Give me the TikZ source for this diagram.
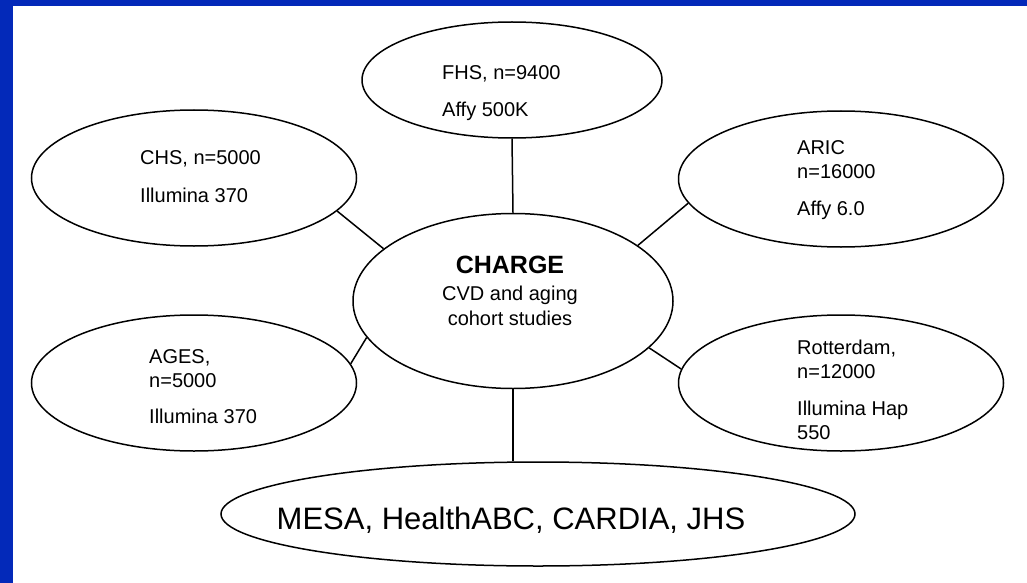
\documentclass[tikz,border=0pt]{standalone}
\usepackage{fontspec}
\setmainfont{Liberation Sans}
\usepackage{xcolor}
\usetikzlibrary{shapes,positioning}

\definecolor{slideblue}{RGB}{3,41,185}

\begin{document}
\begin{tikzpicture}[
    x=1pt, y=-1pt,
    cohort/.style={ellipse, draw, line width=1.5pt, inner sep=0pt, minimum width=325pt, minimum height=136pt},
    info/.style={anchor=base west, align=left, inner sep=0pt, font=\fontsize{20}{24}\selectfont},
    link/.style={line width=1.5pt}
]

% page and frame
\useasboundingbox (0,0) rectangle (1027,583);
\fill[white] (0,0) rectangle (1027,583);
\fill[slideblue] (0,0) rectangle (1027,6);
\fill[slideblue] (0,0) rectangle (13,583);

% ellipses
\node[cohort, minimum width=320pt, minimum height=175pt] (charge) at (513,301) {};
\node[cohort, minimum width=300pt, minimum height=116pt] (fhs) at (512,80) {};
\node[cohort] (chs) at (194,178) {};
\node[cohort] (aric) at (841,179) {};
\node[cohort] (ages) at (194,383) {};
\node[cohort] (rotterdam) at (841,383) {};
\node[cohort, minimum width=634pt, minimum height=104pt] (mesa) at (538,514) {};

% texts (base = last line)
\node[info, anchor=base, align=center] (charge-txt) at (510,325)
    {{\fontsize{25}{27}\selectfont\bfseries CHARGE}\\[3pt] CVD and aging\\[1pt] cohort studies};
\node[info] (fhs-txt) at (442,117) {FHS, n=9400\\[13pt] Affy 500K};
\node[info] (chs-txt) at (140,202) {CHS, n=5000\\[14pt] Illumina 370};
\node[info] (aric-txt) at (797,215) {ARIC\\ n=16000\\[13pt] Affy 6.0};
\node[info] (ages-txt) at (149,423) {AGES,\\ n=5000\\[12pt] Illumina 370};
\node[info] (rotterdam-txt) at (797,439) {Rotterdam,\\ n=12000\\[13pt] Illumina Hap\\ 550};
\node[info, anchor=base, font=\fontsize{31}{36}\selectfont] (mesa-txt) at (511,529)
    {MESA, HealthABC, CARDIA, JHS};

% links
\draw[link] (fhs.south) -- (charge.north);
\draw[link] (chs.-13) -- (charge.158);
\draw[link] (aric.-171) -- (charge.24);
\draw[link] (ages.7) -- (charge.-166);
\draw[link] (rotterdam.175) -- (charge.-19);
\draw[link] (charge.south) -- (charge.south |- mesa.north);

\end{tikzpicture}
\end{document}
